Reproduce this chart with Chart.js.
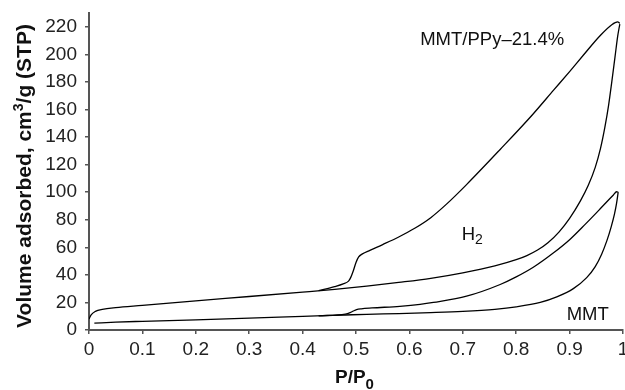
<!DOCTYPE html>
<html>
<head>
<meta charset="utf-8">
<script src="https://cdn.jsdelivr.net/npm/chart.js@4"></script>
<style>
  html, body { margin: 0; padding: 0; background: #fff; }
  #wrap { width: 625px; height: 390px; position: relative; }
</style>
</head>
<body>
<div id="wrap"><canvas id="chart"></canvas></div>
<script>
// relative pressure P/P0 and adsorbed volume (cm3/g STP)
const ppyAdsP = [0, 0.004, 0.012, 0.025, 0.05, 0.1, 0.2, 0.3, 0.4, 0.46, 0.52, 0.58, 0.64, 0.7, 0.76, 0.8, 0.82, 0.84, 0.86, 0.88, 0.9, 0.92, 0.935, 0.948, 0.958, 0.966, 0.973, 0.979, 0.985, 0.99, 0.994];
const ppyAdsV = [8, 11, 13.5, 15, 16.3, 17.9, 21.2, 24.3, 27.5, 29.5, 31.8, 34.5, 37.5, 41.5, 46.5, 51, 54, 58, 63.5, 71, 81, 93.5, 105, 118, 132, 147, 163, 180, 198, 213, 222];

const ppyDesP = [0.43, 0.46, 0.476, 0.486, 0.49, 0.495, 0.5, 0.505, 0.512, 0.526, 0.55, 0.58, 0.61, 0.64, 0.67, 0.707, 0.77, 0.83, 0.87, 0.9, 0.926, 0.957, 0.979, 0.99, 0.994];
const ppyDesV = [28.6, 31.5, 33.5, 35.5, 38, 43, 49, 53, 55.2, 57.8, 62, 67.5, 73.8, 81.5, 91.5, 105.5, 131, 156, 174, 187.5, 199.5, 213.5, 221.5, 223.5, 222.5];

const mmtAdsP = [0.01, 0.05, 0.1, 0.2, 0.3, 0.4, 0.48, 0.52, 0.58, 0.64, 0.7, 0.76, 0.8, 0.845, 0.876, 0.907, 0.932, 0.948, 0.96, 0.97, 0.978, 0.984, 0.988, 0.991];
const mmtAdsV = [5, 5.7, 6.3, 7.4, 8.6, 9.9, 10.9, 11.4, 11.9, 12.6, 13.5, 15, 16.8, 20, 24, 30, 38, 46, 55, 65, 75, 84, 92, 100];

const mmtDesP = [0.43, 0.48, 0.489, 0.495, 0.501, 0.51, 0.53, 0.582, 0.62, 0.645, 0.707, 0.77, 0.8, 0.832, 0.87, 0.9, 0.93, 0.955, 0.972, 0.982, 0.988, 0.991];
const mmtDesV = [10.3, 11.5, 12.6, 13.8, 14.8, 15.4, 16, 17.2, 18.6, 20, 24.5, 33, 38.5, 45.5, 56, 65.5, 77, 87, 94, 98, 100.3, 100];

const xTicks = { min: 0, max: 1, step: 0.1 };
const yTickValues = [0, 20, 40, 60, 80, 100, 120, 140, 160, 180, 200, 220];
const yMax = 230;

const toPoints = (px, vy) => px.map((p, i) => ({ x: p, y: vy[i] }));

function branch(px, vy) {
    return {
        data: toPoints(px, vy),
        borderColor: '#000',
        borderWidth: 1.3,
        pointRadius: 0,
        fill: false,
        cubicInterpolationMode: 'monotone'
    };
}

const FONT = "Arial, 'Liberation Sans', sans-serif";
const axisColor = '#555';

// labels inside the plot, axis titles with sub/superscripts
const textPlugin = {
    id: 'texts',
    afterDraw(chart) {
        const ctx = chart.ctx;
        const xs = chart.scales.x;
        const ys = chart.scales.y;
        ctx.save();
        ctx.fillStyle = '#111';
        ctx.textBaseline = 'alphabetic';

        // series labels
        ctx.font = '18.5px ' + FONT;
        ctx.textAlign = 'center';
        ctx.fillText('MMT/PPy–21.4%', xs.getPixelForValue(0.755), ys.getPixelForValue(207));
        ctx.fillText('MMT', xs.getPixelForValue(0.934), ys.getPixelForValue(7.3));

        ctx.textAlign = 'left';
        let hx = xs.getPixelForValue(0.698);
        let hy = ys.getPixelForValue(65.5);
        ctx.fillText('H', hx, hy);
        let hw = ctx.measureText('H').width;
        ctx.font = '14px ' + FONT;
        ctx.fillText('2', hx + hw, hy + 4);

        // x title P/P0
        ctx.font = 'bold 19px ' + FONT;
        let px = 335, py = 383;
        ctx.fillText('P/P', px, py);
        let pw = ctx.measureText('P/P').width;
        ctx.font = 'bold 15px ' + FONT;
        ctx.fillText('0', px + pw, py + 6);

        // y title, rotated
        ctx.translate(31, 176);
        ctx.rotate(-Math.PI / 2);
        const parts = [
            ['Volume adsorbed, cm', 'bold 21px ' + FONT, 0],
            ['3', 'bold 14px ' + FONT, -8],
            ['/g (STP)', 'bold 21px ' + FONT, 0]
        ];
        let total = 0;
        parts.forEach(p => { ctx.font = p[1]; total += ctx.measureText(p[0]).width; });
        let cx = -total / 2;
        parts.forEach(p => {
            ctx.font = p[1];
            ctx.fillText(p[0], cx, p[2]);
            cx += ctx.measureText(p[0]).width;
        });
        ctx.restore();
    }
};

new Chart(document.getElementById('chart'), {
    type: 'line',
    data: {
        datasets: [
            branch(ppyAdsP, ppyAdsV),
            branch(ppyDesP, ppyDesV),
            branch(mmtAdsP, mmtAdsV),
            branch(mmtDesP, mmtDesV)
        ]
    },
    options: {
        responsive: true,
        maintainAspectRatio: false,
        animation: false,
        layout: { padding: { top: 13, right: 2, left: 0, bottom: 0 } },
        plugins: {
            legend: { display: false },
            tooltip: { enabled: false }
        },
        scales: {
            x: {
                type: 'linear',
                min: xTicks.min,
                max: xTicks.max,
                border: { color: axisColor, width: 2 },
                grid: { drawOnChartArea: false, color: axisColor, tickLength: 4, lineWidth: 1.5 },
                ticks: {
                    stepSize: xTicks.step,
                    color: '#222',
                    padding: 4,
                    maxRotation: 0,
                    font: { family: FONT, size: 19 },
                    callback: value => String(Number(value.toFixed(1)))
                },
                afterFit(scale) {
                    scale.height = 60;
                    scale.paddingLeft = 0;
                    scale.paddingRight = 0;
                }
            },
            y: {
                min: 0,
                max: yMax,
                border: { color: axisColor, width: 2 },
                grid: { drawOnChartArea: false, color: axisColor, tickLength: 4, lineWidth: 1.5 },
                ticks: {
                    color: '#222',
                    padding: 8,
                    font: { family: FONT, size: 19 }
                },
                afterBuildTicks(scale) {
                    scale.ticks = yTickValues.map(v => ({ value: v }));
                },
                afterFit(scale) {
                    scale.width = 89;
                    scale.paddingTop = 0;
                    scale.paddingBottom = 0;
                }
            }
        }
    },
    plugins: [textPlugin]
});
</script>
</body>
</html>
